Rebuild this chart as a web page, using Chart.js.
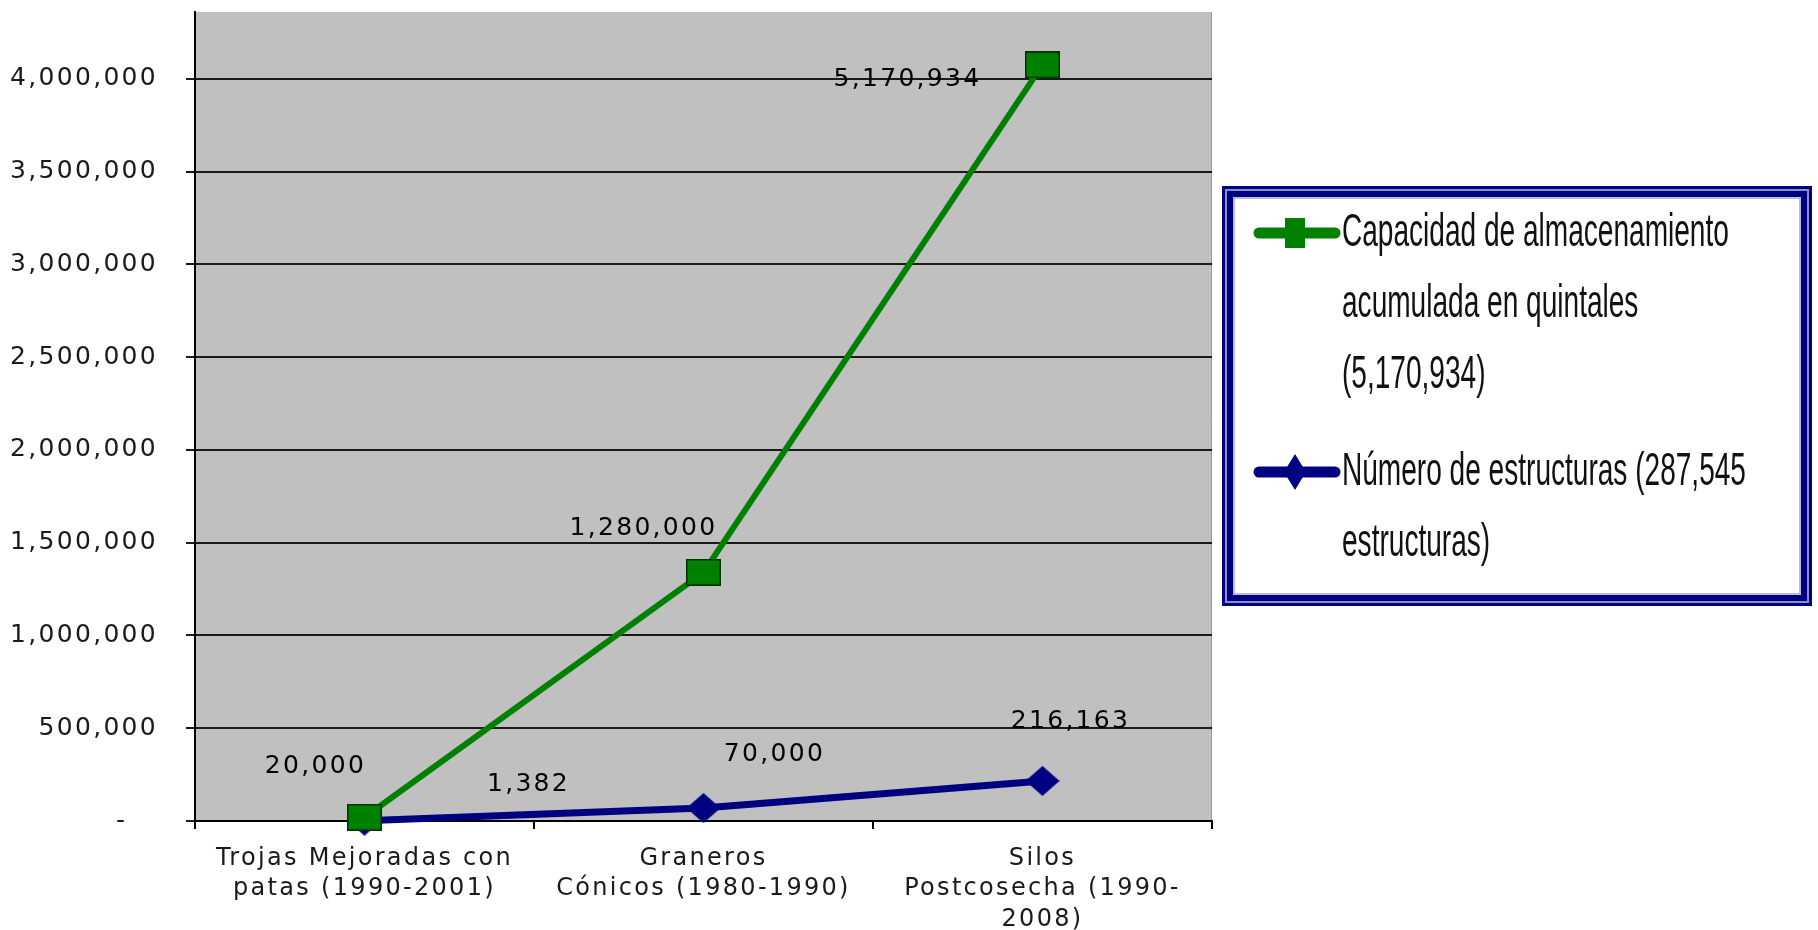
<!DOCTYPE html>
<html>
<head>
<meta charset="utf-8">
<title>Capacidad de almacenamiento</title>
<script src="https://cdn.jsdelivr.net/npm/chart.js@4.4.0/dist/chart.umd.min.js"></script>
<style>
  html, body { margin: 0; padding: 0; background: #fff; }
  #wrap { width: 1818px; height: 930px; position: relative; }
</style>
</head>
<body>
<div id="wrap"><canvas id="lineChart"></canvas></div>
<script>
const categories = [
  ['Trojas Mejoradas con', 'patas (1990-2001)'],
  ['Graneros', 'Cónicos (1980-1990)'],
  ['Silos', 'Postcosecha (1990-', '2008)']
];
const capacidadValues = [20000, 1340000, 4075000];
const capacidadLabels = ['20,000', '1,280,000', '5,170,934'];
const estructurasValues = [1382, 70000, 216163];
const estructurasLabels = ['1,382', '70,000', '216,163'];
const yTicks = [0, 500000, 1000000, 1500000, 2000000, 2500000, 3000000, 3500000, 4000000];
const yMax = 4360000;
const capacidadLegend = ['Capacidad de almacenamiento', 'acumulada en quintales', '(5,170,934)'];
const estructurasLegend = ['Número de estructuras (287,545', 'estructuras)'];

const GREEN = '#008000';
const NAVY = '#000080';
const FONT = "'DejaVu Sans', Verdana, sans-serif";

function makeSquare(w, h) {
  const c = document.createElement('canvas');
  c.width = w; c.height = h;
  const g = c.getContext('2d');
  g.fillStyle = GREEN;
  g.fillRect(0, 0, w, h);
  g.strokeStyle = '#003300';
  g.lineWidth = 1.5;
  g.strokeRect(0.75, 0.75, w - 1.5, h - 1.5);
  return c;
}

function makeDiamond(w, h) {
  const c = document.createElement('canvas');
  c.width = w; c.height = h;
  const g = c.getContext('2d');
  g.fillStyle = NAVY;
  g.beginPath();
  g.moveTo(w / 2, 0);
  g.lineTo(w, h / 2);
  g.lineTo(w / 2, h);
  g.lineTo(0, h / 2);
  g.closePath();
  g.fill();
  return c;
}

// spacing of the old excel-style text
const spacing = {
  id: 'spacing',
  beforeUpdate(chart) { chart.ctx.letterSpacing = '2.3px'; },
  beforeDraw(chart) { chart.ctx.letterSpacing = '2.3px'; }
};

const plotBg = {
  id: 'plotBg',
  beforeDraw(chart) {
    const { ctx, chartArea: a } = chart;
    ctx.save();
    ctx.fillStyle = '#C0C0C0';
    ctx.fillRect(a.left, a.top, a.right - a.left, a.bottom - a.top);
    ctx.strokeStyle = '#9a9a9a';
    ctx.lineWidth = 1;
    ctx.beginPath();
    ctx.moveTo(a.right - 0.5, a.top);
    ctx.lineTo(a.right - 0.5, a.bottom);
    ctx.stroke();
    ctx.restore();
  }
};

const pointLabels = {
  id: 'pointLabels',
  afterDatasetsDraw(chart) {
    const offsets = [
      [[-49, -51], [-60, -44], [-135, 15]],
      [[164, -36], [71, -54], [28, -59]]
    ];
    const texts = [capacidadLabels, estructurasLabels];
    const { ctx } = chart;
    ctx.save();
    ctx.font = '25px ' + FONT;
    ctx.fillStyle = '#000';
    ctx.textAlign = 'center';
    ctx.textBaseline = 'middle';
    texts.forEach((arr, di) => {
      const meta = chart.getDatasetMeta(di);
      meta.data.forEach((pt, i) => {
        ctx.fillText(arr[i], pt.x + offsets[di][i][0], pt.y + offsets[di][i][1]);
      });
    });
    ctx.restore();
  }
};

const boxLegend = {
  id: 'boxLegend',
  afterDraw(chart) {
    const { ctx } = chart;
    const x = 1222, y = 186, w = 590, h = 420;
    ctx.save();
    ctx.letterSpacing = '0px';
    ctx.fillStyle = NAVY;
    ctx.fillRect(x, y, w, h);
    ctx.fillStyle = '#8a8fc0';
    ctx.fillRect(x + 3, y + 3, w - 6, h - 6);
    ctx.fillStyle = NAVY;
    ctx.fillRect(x + 5, y + 5, w - 10, h - 10);
    ctx.fillStyle = '#b8bbdc';
    ctx.fillRect(x + 11, y + 11, w - 22, h - 22);
    ctx.fillStyle = '#fff';
    ctx.fillRect(x + 13, y + 13, w - 26, h - 26);

    const items = [
      { lines: capacidadLegend, color: GREEN, shape: 'rect', top: 233 },
      { lines: estructurasLegend, color: NAVY, shape: 'diamond', top: 472 }
    ];
    items.forEach(it => {
      const my = it.top;
      ctx.strokeStyle = it.color;
      ctx.lineWidth = 11;
      ctx.lineCap = 'round';
      ctx.beginPath();
      ctx.moveTo(1259, my);
      ctx.lineTo(1335, my);
      ctx.stroke();
      ctx.fillStyle = it.color;
      if (it.shape === 'rect') {
        ctx.fillRect(1285, my - 15, 20, 30);
      } else {
        ctx.beginPath();
        ctx.moveTo(1295, my - 18);
        ctx.lineTo(1306, my);
        ctx.lineTo(1295, my + 18);
        ctx.lineTo(1284, my);
        ctx.closePath();
        ctx.fill();
      }
      ctx.fillStyle = '#111';
      ctx.font = "46px 'Liberation Sans', Arial, sans-serif";
      ctx.textBaseline = 'middle';
      ctx.textAlign = 'left';
      it.lines.forEach((line, li) => {
        ctx.save();
        ctx.translate(1342, my + li * 71);
        ctx.scale(0.61, 1);
        ctx.fillText(line, 0, 0);
        ctx.restore();
      });
    });
    ctx.restore();
  }
};

const chartLine = document.getElementById('lineChart');

new Chart(chartLine, {
  type: 'line',
  data: {
    labels: categories,
    datasets: [
      {
        label: capacidadLegend.join(' '),
        data: capacidadValues,
        borderColor: GREEN,
        borderWidth: 6,
        pointStyle: makeSquare(35, 27),
        clip: false
      },
      {
        label: estructurasLegend.join(' '),
        data: estructurasValues,
        borderColor: NAVY,
        borderWidth: 7,
        pointStyle: makeDiamond(34, 30),
        clip: false
      }
    ]
  },
  options: {
    responsive: true,
    maintainAspectRatio: false,
    animation: false,
    tension: 0,
    layout: {
      padding: { left: 0, right: 606, top: 12, bottom: 0 }
    },
    scales: {
      x: {
        offset: true,
        grid: {
          offset: true,
          drawOnChartArea: false,
          drawTicks: true,
          tickLength: 8,
          color: '#000',
          lineWidth: 2
        },
        border: { color: '#000', width: 2 },
        ticks: {
          color: '#1a1a1a',
          padding: 14,
          maxRotation: 0,
          autoSkip: false,
          font: { family: FONT, size: 24, lineHeight: 1.28 }
        },
        afterFit(scale) {
          scale.height = 109;
          scale.paddingLeft = 0;
          scale.paddingRight = 0;
        }
      },
      y: {
        min: 0,
        max: yMax,
        afterBuildTicks(scale) {
          scale.ticks = yTicks.map(v => ({ value: v }));
        },
        grid: {
          color: '#1a1a1a',
          lineWidth: 2,
          tickLength: 9
        },
        border: { color: '#000', width: 2 },
        ticks: {
          color: '#1a1a1a',
          padding: 28,
          font: { family: FONT, size: 25 },
          callback: (v) => v === 0 ? '-   ' : v.toLocaleString('en-US')
        },
        afterFit(scale) {
          scale.width = 195;
          scale.paddingTop = 0;
          scale.paddingBottom = 0;
        }
      }
    },
    plugins: {
      legend: { display: false },
      tooltip: { enabled: false }
    }
  },
  plugins: [spacing, plotBg, pointLabels, boxLegend]
});
</script>
</body>
</html>
